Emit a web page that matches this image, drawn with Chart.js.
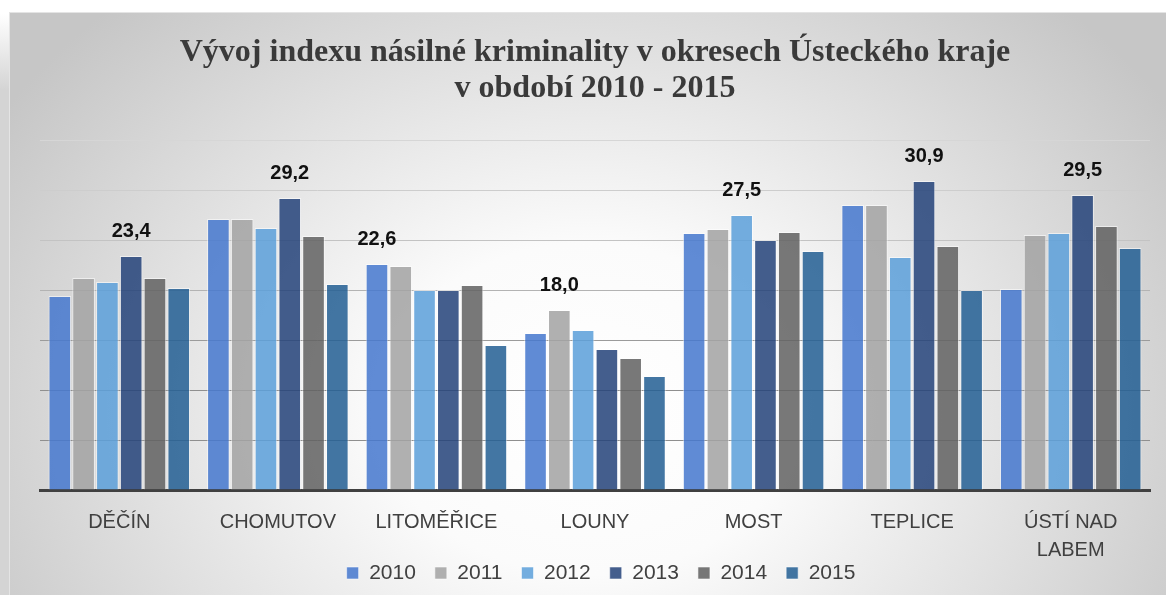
<!DOCTYPE html>
<html>
<head>
<meta charset="utf-8">
<script src="https://cdn.jsdelivr.net/npm/chart.js@4.4.1/dist/chart.umd.min.js"></script>
<style>
  html, body { margin: 0; padding: 0; background: #fff; }
  #wrap { position: relative; width: 1166px; height: 595px; overflow: hidden;
          background: linear-gradient(to bottom, #ffffff 0px, #ffffff 14px, #d4d4d4 90px, #d4d4d4 100%); }
  #frame { position: absolute; left: 9px; top: 12px; width: 1157px; height: 583px;
           border-left: 1px solid #e4e4e4; border-top: 1px solid #e4e4e4; box-sizing: border-box;
           background: radial-gradient(ellipse 60% 95% at 50% 68%, #ffffff 0%, #fbfbfb 30%, #c6c6c6 100%); }
  #c { position: absolute; left: 0; top: 0; }
</style>
</head>
<body>
<div id="wrap">
  <div id="frame"></div>
  <canvas id="c" width="1166" height="595"></canvas>
</div>
<script>
// ---- data ----
const categories = ['DĚČÍN', 'CHOMUTOV', 'LITOMĚŘICE', 'LOUNY', 'MOST', 'TEPLICE', ['ÚSTÍ NAD', 'LABEM']];
const years = ['2010', '2011', '2012', '2013', '2014', '2015'];
const s2010 = [19.4, 27.1, 22.6, 15.7, 25.7, 28.5, 20.1];
const s2011 = [21.2, 27.1, 22.4, 18.0, 26.1, 28.5, 25.5];
const s2012 = [20.8, 26.2, 20.0, 16.0, 27.5, 23.3, 25.7];
const s2013 = [23.4, 29.2, 20.0, 14.1, 25.0, 30.9, 29.5];
const s2014 = [21.2, 25.4, 20.5, 13.2, 25.8, 24.4, 26.4];
const s2015 = [20.2, 20.6, 14.5, 11.4, 23.9, 20.0, 24.2];
const titleLines = ['Vývoj indexu násilné kriminality v okresech Ústeckého kraje', 'v období 2010 - 2015'];

// ---- styles ----
const seriesColors = [
  'rgba(70,120,206,0.86)',
  'rgba(163,163,163,0.86)',
  'rgba(92,159,218,0.86)',
  'rgba(37,67,122,0.86)',
  'rgba(98,98,98,0.86)',
  'rgba(36,96,148,0.86)'
];
const seriesData = [s2010, s2011, s2012, s2013, s2014, s2015];

const datasets = years.map((y, i) => ({
  label: y,
  data: seriesData[i],
  backgroundColor: seriesColors[i],
  borderColor: 'rgba(255,255,255,0.55)',
  borderWidth: 1,
  barPercentage: 0.95,
  categoryPercentage: 0.9
}));

const gridColors = { 35: '#d6d6d6', 30: '#cdcdcd', 25: '#c3c3c3', 20: '#b3b3b3', 15: '#9b9b9b', 10: '#8f8f8f', 5: '#8f8f8f', 0: '#404040' };

const valueLabels = {
  id: 'valueLabels',
  afterDatasetsDraw(chart) {
    const ctx = chart.ctx;
    ctx.save();
    ctx.font = 'bold 20px "Liberation Sans", Arial, sans-serif';
    ctx.fillStyle = '#111111';
    ctx.textAlign = 'center';
    ctx.textBaseline = 'alphabetic';
    const ds = chart.data.datasets;
    categories.forEach((c, i) => {
      let best = 0;
      ds.forEach((d, j) => { if (d.data[i] > ds[best].data[i]) best = j; });
      const el = chart.getDatasetMeta(best).data[i];
      const txt = ds[best].data[i].toFixed(1).replace('.', ',');
      ctx.fillText(txt, el.x, el.y - 19);
    });
    ctx.restore();
  }
};

// let the two-line category label extend below the axis box, and nudge the legend a little right
const layoutTweaks = {
  id: 'layoutTweaks',
  afterLayout(chart) {
    chart.scales.x.bottom = chart.height;
    if (chart.legend) { chart.legend.left += 6; chart.legend.right += 6; }
  }
};

new Chart(document.getElementById('c'), {
  type: 'bar',
  data: { labels: categories, datasets },
  plugins: [valueLabels, layoutTweaks],
  options: {
    responsive: false,
    animation: false,
    devicePixelRatio: 1,
    layout: { padding: { left: 40, right: 16, top: 12, bottom: 1.5 } },
    plugins: {
      title: {
        display: true,
        text: titleLines,
        color: '#3a3a3a',
        font: { family: '"Liberation Serif", "Times New Roman", serif', size: 32, weight: 'bold', lineHeight: 1.15 },
        padding: { top: 22, bottom: 32.4 }
      },
      legend: {
        position: 'bottom',
        labels: {
          color: '#404040',
          font: { family: '"Liberation Sans", Arial, sans-serif', size: 21 },
          boxWidth: 12,
          boxHeight: 12,
          padding: 19
        }
      },
      tooltip: { enabled: false }
    },
    scales: {
      x: {
        z: 1,
        grid: { display: false, drawTicks: false },
        border: { display: true, color: '#404040', width: 3 },
        ticks: {
          color: '#404040',
          font: { family: '"Liberation Sans", Arial, sans-serif', size: 20, lineHeight: 1.4 },
          padding: 18,
          maxRotation: 0,
          autoSkip: false
        },
        afterFit(scale) { scale.height = 53.5; }
      },
      y: {
        min: 0,
        max: 35,
        grid: {
          drawTicks: false,
          color: (ctx) => gridColors[ctx.tick ? ctx.tick.value : 0] || '#c0c0c0',
          lineWidth: 1
        },
        border: { display: false },
        ticks: { display: false, stepSize: 5 }
      }
    }
  }
});
</script>
</body>
</html>
